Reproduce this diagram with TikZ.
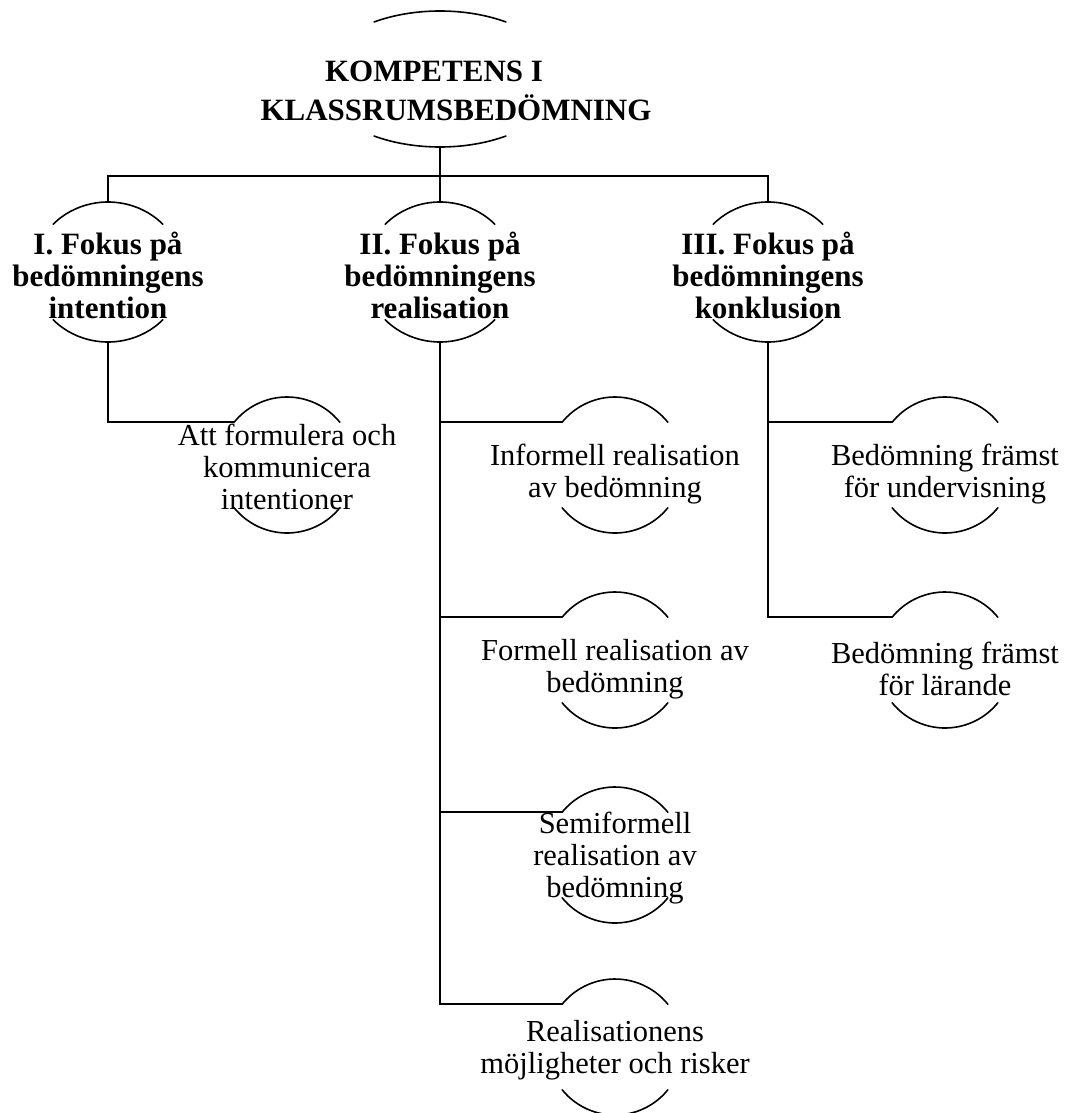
\documentclass[tikz,border=0pt]{standalone}
\usepackage{fontspec}
\setmainfont{Liberation Serif}
\usetikzlibrary{calc}
\tikzset{
  arcline/.style={line width=1.6pt, line cap=round},
  conn/.style={line width=1.8pt},
  roottxt/.style={align=center, inner sep=0pt, font=\bfseries\fontsize{31}{39}\selectfont},
  firsttxt/.style={align=center, inner sep=0pt, font=\bfseries\fontsize{31}{32}\selectfont},
  secondtxt/.style={align=center, inner sep=0pt, font=\fontsize{30.5}{32}\selectfont},
}
% #1 name, #2 x, #3 y (downwards), #4 rx, #5 ry, #6 end angle, #7 text style, #8 text shift, #9 text
\newcommand\arcnode[9]{%
  \coordinate (#1-c) at (#2,-#3);
  \draw[arcline] ($(#1-c)+({#4*cos(#6)},{#5*sin(#6)})$) arc[start angle=#6, end angle=180-#6, x radius=#4pt, y radius=#5pt];
  \draw[arcline] ($(#1-c)+({-#4*cos(#6)},{-#5*sin(#6)})$) arc[start angle=180+#6, end angle=360-#6, x radius=#4pt, y radius=#5pt];
  \coordinate (#1-top) at ($(#1-c)+(0,#5)$);
  \coordinate (#1-bot) at ($(#1-c)+(0,-#5)$);
  \coordinate (#1-in) at ($(#1-c)+({-#4*cos(#6)},{#5*sin(#6)})$);
  \node[#7, yshift=-#8pt] (#1) at (#1-c) {#9};
}
\begin{document}
\begin{tikzpicture}[x=1pt,y=1pt]
\useasboundingbox (0,0) rectangle (1070,-1113);
% root
\coordinate (root-c) at (440,-79);
\draw[arcline] ($(root-c)+({121*cos(57)},{68*sin(57)})$) arc[start angle=57, end angle=123, x radius=121pt, y radius=68pt];
\draw[arcline] ($(root-c)+({-121*cos(57)},{-68*sin(57)})$) arc[start angle=237, end angle=303, x radius=121pt, y radius=68pt];
\coordinate (root-bot) at ($(root-c)+(0,-68)$);
\node[roottxt] (root) at (456,-91) {KOMPETENS I\kern44pt\\KLASSRUMSBEDÖMNING};
% level 1
\arcnode{a1}{108}{272}{75}{70}{43}{firsttxt}{3}{I. Fokus på\\bedömningens\\intention}
\arcnode{a2}{440}{272}{75}{70}{43}{firsttxt}{3}{II. Fokus på\\bedömningens\\realisation}
\arcnode{a3}{768}{272}{75}{70}{43}{firsttxt}{3}{III. Fokus på\\bedömningens\\konklusion}
% level 2
\arcnode{b1}{287}{465}{68}{68}{39}{secondtxt}{2}{Att formulera och\\kommunicera\\intentioner}
\arcnode{c1}{615}{465}{68}{68}{39}{secondtxt}{9}{Informell realisation\\av bedömning}
\arcnode{c2}{615}{660}{68}{68}{39}{secondtxt}{9}{Formell realisation av\\bedömning}
\arcnode{c3}{615}{855}{68}{68}{39}{secondtxt}{3}{Semiformell\\realisation av\\bedömning}
\arcnode{c4}{615}{1047}{68}{68}{39}{secondtxt}{3}{Realisationens\\möjligheter och risker}
\arcnode{d1}{945}{465}{68}{68}{39}{secondtxt}{9}{Bedömning främst\\för undervisning}
\arcnode{d2}{945}{660}{68}{68}{39}{secondtxt}{9}{Bedömning främst\\för lärande}
% connectors
\coordinate (bus) at (0,-176);
\draw[conn] (root-bot) -- (root-bot |- bus);
\draw[conn] (a1-top) -- (a1-top |- bus) -- (a3-top |- bus) -- (a3-top);
\draw[conn] (a2-top) -- (a2-top |- bus);
\draw[conn] (a1-bot) |- (b1-in);
\draw[conn] (a2-bot) |- (c1-in);
\draw[conn] (a2-bot) |- (c2-in);
\draw[conn] (a2-bot) |- (c3-in);
\draw[conn] (a2-bot) |- (c4-in);
\draw[conn] (a3-bot) |- (d1-in);
\draw[conn] (a3-bot) |- (d2-in);
\end{tikzpicture}
\end{document}
